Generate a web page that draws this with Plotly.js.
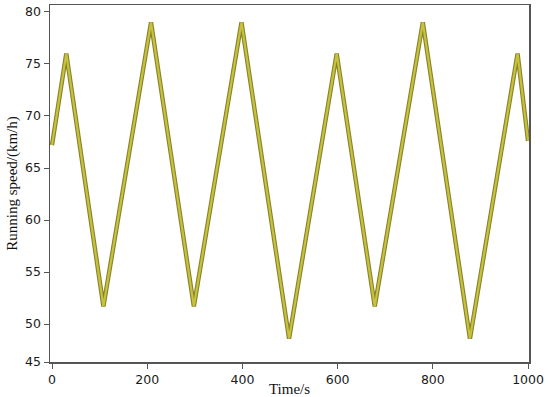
<!DOCTYPE html>
<html>
<head>
<meta charset="utf-8">
<script src="https://cdn.plot.ly/plotly-3.0.1.min.js"></script>
<style>
  html, body { margin: 0; padding: 0; background: #fff; }
  #chart { width: 550px; height: 397px; }
</style>
</head>
<body>
<div id="chart"></div>
<script>
// turning points of the speed profile (time in s, speed in km/h)
const timeS = [0, 30, 108, 208, 298, 398, 498, 598, 678, 779, 878, 978, 1000];
const speedKmh = [67.2, 76.0, 51.7, 79.0, 51.7, 79.0, 48.6, 76.0, 51.7, 79.0, 48.6, 76.0, 67.6];

const yTickVals = [46.35, 50, 55, 60, 65, 70, 75, 80];
const yTickText = ['45', '50', '55', '60', '65', '70', '75', '80'];
const xTickVals = [0, 200, 400, 600, 800, 1000];

const AXIS_COL = '#555';

const traces = [
  { x: timeS, y: speedKmh, mode: 'lines', hoverinfo: 'skip', showlegend: false,
    line: { color: '#86832f', width: 4.4 } },
  { x: timeS, y: speedKmh, mode: 'lines', showlegend: false,
    line: { color: '#c8c13a', width: 2.2 } }
];

const layout = {
  width: 550, height: 397,
  margin: { l: 50, r: 21, t: 5, b: 35 },
  paper_bgcolor: '#fff', plot_bgcolor: '#fff',
  font: { family: 'DejaVu Sans, sans-serif', size: 12.5, color: '#1a1a1a' },
  xaxis: {
    range: [-4.2, 1002], tickvals: xTickVals, ticks: 'outside', ticklen: 5,
    tickcolor: AXIS_COL, linecolor: AXIS_COL, linewidth: 1.5, mirror: true,
    showgrid: false, zeroline: false,
    title: { text: 'Time/s', standoff: 0, font: { family: 'Liberation Serif, serif', size: 15, color: '#111' } }
  },
  yaxis: {
    range: [46.35, 80.67], tickvals: yTickVals, ticktext: yTickText, ticks: 'outside', ticklen: 5,
    tickcolor: AXIS_COL, linecolor: AXIS_COL, linewidth: 1.5, mirror: true,
    showgrid: false, zeroline: false,
    title: { text: 'Running speed/(km/h)', standoff: 4, font: { family: 'Liberation Serif, serif', size: 15, color: '#111' } }
  }
};

Plotly.newPlot('chart', traces, layout, { displayModeBar: false, staticPlot: true });
</script>
</body>
</html>
